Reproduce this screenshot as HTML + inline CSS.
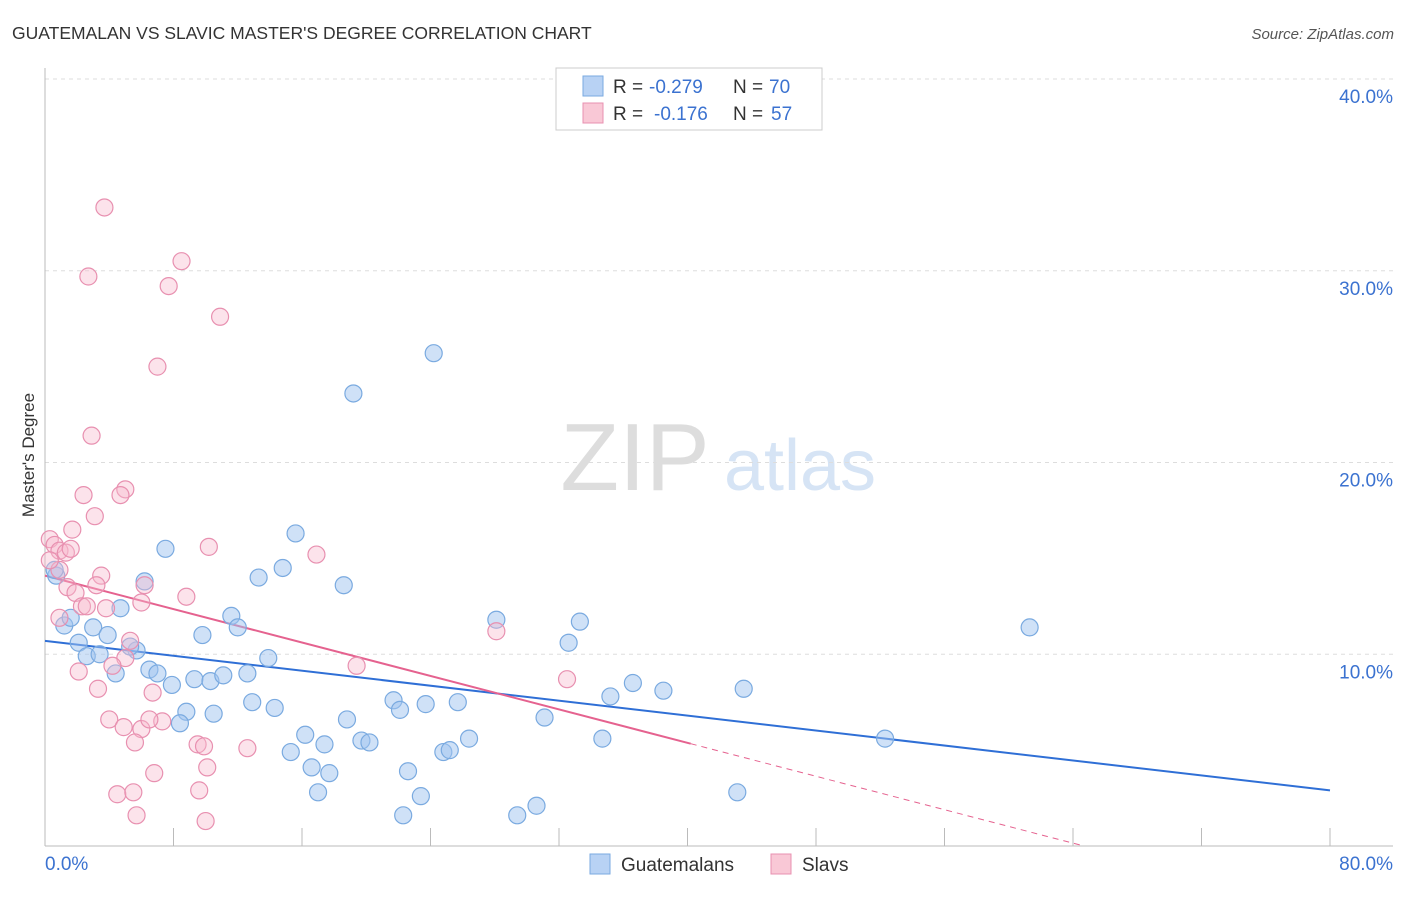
<!DOCTYPE html>
<html><head><meta charset="utf-8"><style>
body{margin:0;background:#fff;font-family:"Liberation Sans",sans-serif;}
svg text{font-family:"Liberation Sans",sans-serif;}
</style></head><body>
<svg id="chart" width="1406" height="892" viewBox="0 0 1406 892">
<text x="12" y="39" font-size="17.5" fill="#333">GUATEMALAN VS SLAVIC MASTER'S DEGREE CORRELATION CHART</text>
<text x="1394" y="39" font-size="15" fill="#555" font-style="italic" text-anchor="end">Source: ZipAtlas.com</text>
<text x="34" y="455" font-size="17" fill="#333" text-anchor="middle" transform="rotate(-90 34 455)">Master's Degree</text>
<g>
<text x="635" y="490" font-size="96" fill="#ddd" font-family="Liberation Serif" text-anchor="middle">ZIP</text>
<text x="800" y="490" font-size="72" fill="#d6e4f5" text-anchor="middle">atlas</text>
</g>
<g id="grid"></g>
<g id="axes"></g>
<g id="lines"></g>
<g id="points"></g>
<g>
<rect x="556" y="68" width="266" height="62" fill="#fff" stroke="#ccc"/>
<rect x="583" y="76" width="20" height="20" fill="#b8d2f4" stroke="#7aaae0"/>
<text y="93" font-size="19" fill="#333"><tspan x="613">R =</tspan><tspan x="649" fill="#3b72d0">-0.279</tspan><tspan x="733">N =</tspan><tspan x="769" fill="#3b72d0">70</tspan></text>
<rect x="583" y="103" width="20" height="20" fill="#f9c8d6" stroke="#e890b0"/>
<text y="120" font-size="19" fill="#333"><tspan x="613">R =</tspan><tspan x="654" fill="#3b72d0">-0.176</tspan><tspan x="733">N =</tspan><tspan x="771" fill="#3b72d0">57</tspan></text>
</g>
<g>
<rect x="590" y="854" width="20" height="20" fill="#b8d2f4" stroke="#7aaae0"/>
<text x="621" y="871" font-size="19" fill="#333">Guatemalans</text>
<rect x="771" y="854" width="20" height="20" fill="#f9c8d6" stroke="#e890b0"/>
<text x="802" y="871" font-size="19" fill="#333">Slavs</text>
</g>
</svg>
<script>
const blueX=[24.2,19.2,7.5,15.6,14.8,13.3,18.6,6.2,4.7,11.6,12.0,9.8,1.2,1.6,3.0,3.9,2.1,2.6,3.4,5.7,5.3,4.4,6.5,7.0,7.9,9.3,10.3,11.1,12.6,13.9,12.9,14.3,8.8,10.5,8.4,16.2,17.4,15.3,16.6,17.7,17.0,18.8,19.7,20.2,21.7,22.1,23.7,25.7,26.4,24.8,25.2,22.6,23.4,22.3,28.1,33.3,32.6,31.1,35.2,36.6,38.5,34.7,43.5,52.3,43.1,29.4,30.6,61.3,0.7,0.6];
const blueY=[25.7,23.6,15.5,16.3,14.5,14.0,13.6,13.8,12.4,12.0,11.4,11.0,11.5,11.9,11.4,11.0,10.6,9.9,10.0,10.2,10.4,9.0,9.2,9.0,8.4,8.7,8.6,8.9,9.0,9.8,7.5,7.2,7.0,6.9,6.4,5.8,5.3,4.9,4.1,3.8,2.8,6.6,5.5,5.4,7.6,7.1,7.4,7.5,5.6,4.9,5.0,3.9,2.6,1.6,11.8,11.7,10.6,6.7,7.8,8.5,8.1,5.6,8.2,5.6,2.8,1.6,2.1,11.4,14.1,14.4];
const pinkX=[3.7,8.5,2.7,7.7,10.9,7.0,2.9,2.4,5.0,4.7,3.1,1.7,0.3,0.6,0.9,1.3,1.6,10.2,16.9,0.9,3.5,3.2,1.4,1.9,2.3,2.6,3.8,6.2,6.0,8.8,0.9,5.3,5.0,4.2,2.1,3.3,6.7,4.0,7.3,4.9,6.0,5.6,9.5,9.9,12.6,10.1,6.8,19.4,28.1,32.5,4.5,5.5,9.6,5.7,10.0,0.3,6.5];
const pinkY=[33.3,30.5,29.7,29.2,27.6,25.0,21.4,18.3,18.6,18.3,17.2,16.5,16.0,15.7,15.4,15.3,15.5,15.6,15.2,14.4,14.1,13.6,13.5,13.2,12.5,12.5,12.4,13.6,12.7,13.0,11.9,10.7,9.8,9.4,9.1,8.2,8.0,6.6,6.5,6.2,6.1,5.4,5.3,5.2,5.1,4.1,3.8,9.4,11.2,8.7,2.7,2.8,2.9,1.6,1.3,14.9,6.6];
const blueTrend=[10.7,2.9];
const pinkTrend=[14.1,-0.218];
const yTicks=[10,20,30,40];
const xTickLabels=["0.0%","80.0%"];
const NS="http://www.w3.org/2000/svg";
const X=v=>45+v*1285/80;
const Y=v=>846-v*19.175;
function mk(tag,attrs,parent){const e=document.createElementNS(NS,tag);for(const k in attrs)e.setAttribute(k,attrs[k]);document.getElementById(parent).appendChild(e);return e;}
yTicks.forEach(t=>{
 const l=mk('line',{x1:45,x2:1393,y1:Y(t),y2:Y(t),stroke:'#ddd','stroke-dasharray':'4,4'},'grid');
 
 
 const tx=mk('text',{x:1393,y:Y(t)+24,'font-size':19,fill:'#3b72d0','text-anchor':'end'},'grid');
 tx.textContent=t.toFixed(1)+'%';
 
 
});
const ax=mk('line',{x1:45,x2:45,y1:68,y2:846,stroke:'#bbb'},'axes');


const bx=mk('line',{x1:45,x2:1393,y1:846,y2:846,stroke:'#bbb'},'axes');


for(let i=0;i<=10;i++){const t=mk('line',{x1:X(i*8),x2:X(i*8),y1:828,y2:846,stroke:'#bbb'},'axes');
 
 }
const l0=mk('text',{x:45,y:870,'font-size':19,fill:'#3b72d0'},'axes');l0.textContent=xTickLabels[0];


const l1=mk('text',{x:1393,y:870,'font-size':19,fill:'#3b72d0','text-anchor':'end'},'axes');l1.textContent=xTickLabels[1];


blueX.forEach((x,i)=>{const c=mk('circle',{cx:X(x),cy:Y(blueY[i]),r:8.5,fill:'rgba(160,195,240,0.5)',stroke:'#7aaae0','stroke-width':1.2},'points');
 
 });
pinkX.forEach((x,i)=>{const c=mk('circle',{cx:X(x),cy:Y(pinkY[i]),r:8.5,fill:'rgba(248,185,205,0.4)',stroke:'#e890b0','stroke-width':1.2},'points');
 
 });
const bl=mk('line',{x1:X(0),y1:Y(blueTrend[0]),x2:X(80),y2:Y(blueTrend[1]),stroke:'#2f6fd6','stroke-width':2},'lines');


const pf=x=>pinkTrend[0]+pinkTrend[1]*x;
const pl=mk('line',{x1:X(0),y1:Y(pf(0)),x2:X(40.2),y2:Y(pf(40.2)),stroke:'#e5628f','stroke-width':2},'lines');


const xe=-pinkTrend[0]/pinkTrend[1];
const pd=mk('line',{x1:X(40.2),y1:Y(pf(40.2)),x2:X(xe),y2:Y(0),stroke:'#e5628f','stroke-width':1,'stroke-dasharray':'6,5'},'lines');


</script>
</body></html>
